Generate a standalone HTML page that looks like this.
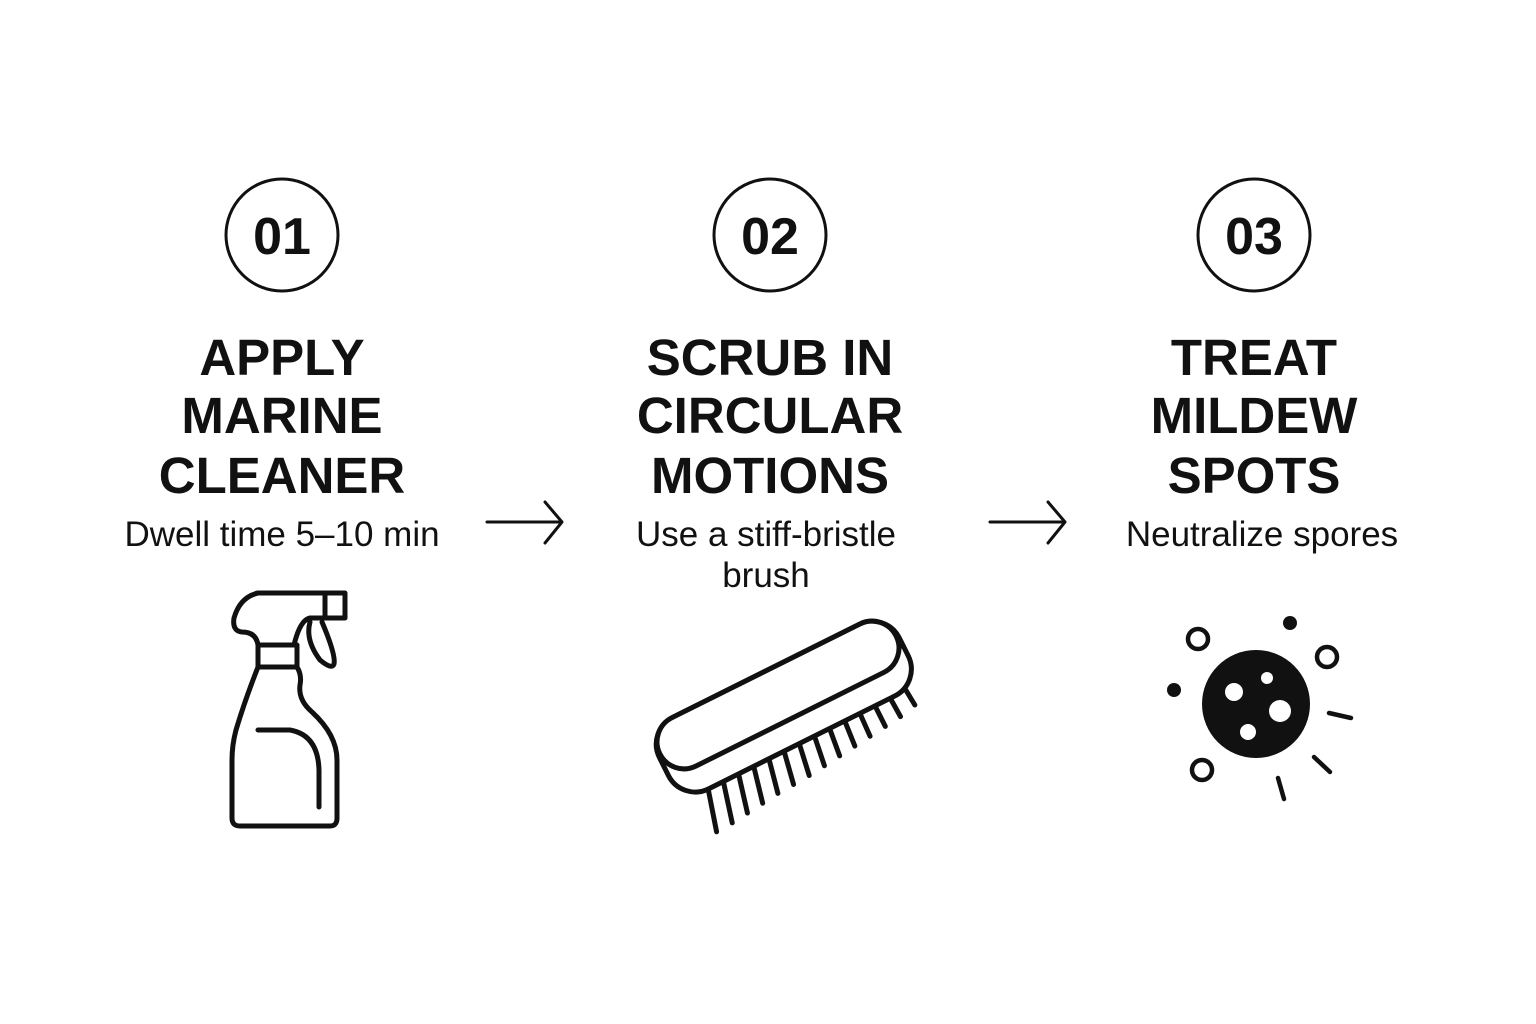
<!DOCTYPE html>
<html><head><meta charset="utf-8"><style>
html,body{margin:0;padding:0;background:#fff;}
body{width:1536px;height:1024px;overflow:hidden;}
svg{display:block}
.t{font-family:"Liberation Sans",sans-serif;font-weight:bold;font-size:51px;fill:#111;text-anchor:middle}
.s{font-family:"Liberation Sans",sans-serif;font-size:35px;fill:#111;text-anchor:middle}
.n{font-family:"Liberation Sans",sans-serif;font-weight:bold;font-size:52px;fill:#111;text-anchor:middle}
</style></head><body>
<svg width="1536" height="1024" viewBox="0 0 1536 1024" xmlns="http://www.w3.org/2000/svg">
<g fill="none" stroke="#111" stroke-width="3">
<circle cx="282" cy="235" r="56"/>
<circle cx="770" cy="235" r="56"/>
<circle cx="1254" cy="235" r="56"/>
</g>
<text class="n" x="282" y="254">01</text>
<text class="n" x="770" y="254">02</text>
<text class="n" x="1254" y="254">03</text>

<text class="t" x="282" y="375">APPLY</text>
<text class="t" x="282" y="433">MARINE</text>
<text class="t" x="282" y="493">CLEANER</text>
<text class="s" x="282" y="546">Dwell time 5–10 min</text>

<text class="t" x="770" y="375">SCRUB IN</text>
<text class="t" x="770" y="433">CIRCULAR</text>
<text class="t" x="770" y="493">MOTIONS</text>
<text class="s" x="766" y="546">Use a stiff-bristle</text>
<text class="s" x="766" y="587">brush</text>

<text class="t" x="1254" y="375">TREAT</text>
<text class="t" x="1254" y="433">MILDEW</text>
<text class="t" x="1254" y="493">SPOTS</text>
<text class="s" x="1262" y="546">Neutralize spores</text>

<g fill="none" stroke="#111" stroke-width="3" stroke-linecap="round" stroke-linejoin="round">
<path d="M487 522 H562 M545 502 L562 522 L545 543"/>
<path d="M990 522 H1065 M1048 502 L1065 522 L1048 543"/>
</g>

<!-- spray bottle -->
<g fill="none" stroke="#111" stroke-width="5" stroke-linecap="round" stroke-linejoin="round">
<path d="M258 593 H345 V618 H325 M325 593 V618 M345 618 H310 Q300 620 294 645"/>
<path d="M258 593 Q240 597 234 618 Q232 631 242 632 Q256 632 258 645"/>
<rect x="258" y="645" width="39" height="22"/>
<path d="M258 667 Q245 700 236 730 Q232 745 232 760 V818 Q232 826 240 826 H330 Q337 826 337 818 V760 Q337 735 312 712 Q298 700 300 685 Q302 675 297 667"/>
<path d="M258 730 H290 Q318 735 319 770 V807"/>
<path d="M310 622 Q305 640 320 660 Q332 670 334 664 Q336 655 322 622"/>
</g>

<!-- brush -->
<g transform="rotate(-26.5 778 695)" fill="#fff" stroke="#111" stroke-width="5" stroke-linecap="round">
<g transform="translate(778 695)">
<path d="M-105 55 L-116 95 M-88 55 L-98 94 M-71 55 L-80 92 M-54 55 L-62 90 M-37 55 L-44 88 M-20 55 L-26 87 M-3 55 L-8 86 M14 55 L10 84 M31 55 L28 82 M48 55 L46 80 M65 55 L64 78 M82 55 L82 76 M99 52 L100 74 M116 45 L118 70"/>
<rect x="-134" y="-27" width="268" height="80" rx="30"/>
<rect x="-132" y="-27" width="264" height="54" rx="27"/>
</g>
</g>

<!-- mildew -->
<g fill="#111">
<circle cx="1256" cy="704" r="54"/>
<circle cx="1290" cy="623" r="7"/>
<circle cx="1174" cy="690" r="7"/>
</g>
<g fill="#fff">
<circle cx="1234" cy="692" r="9"/>
<circle cx="1267" cy="678" r="6"/>
<circle cx="1280" cy="711" r="11"/>
<circle cx="1248" cy="732" r="8"/>
</g>
<g fill="none" stroke="#111" stroke-width="4.5" stroke-linecap="round">
<circle cx="1198" cy="639" r="10"/>
<circle cx="1327" cy="657" r="10"/>
<circle cx="1202" cy="770" r="10"/>
<path d="M1329 713 L1351 718 M1314 757 L1330 772 M1278 778 L1284 799"/>
</g>
</svg>
</body></html>
